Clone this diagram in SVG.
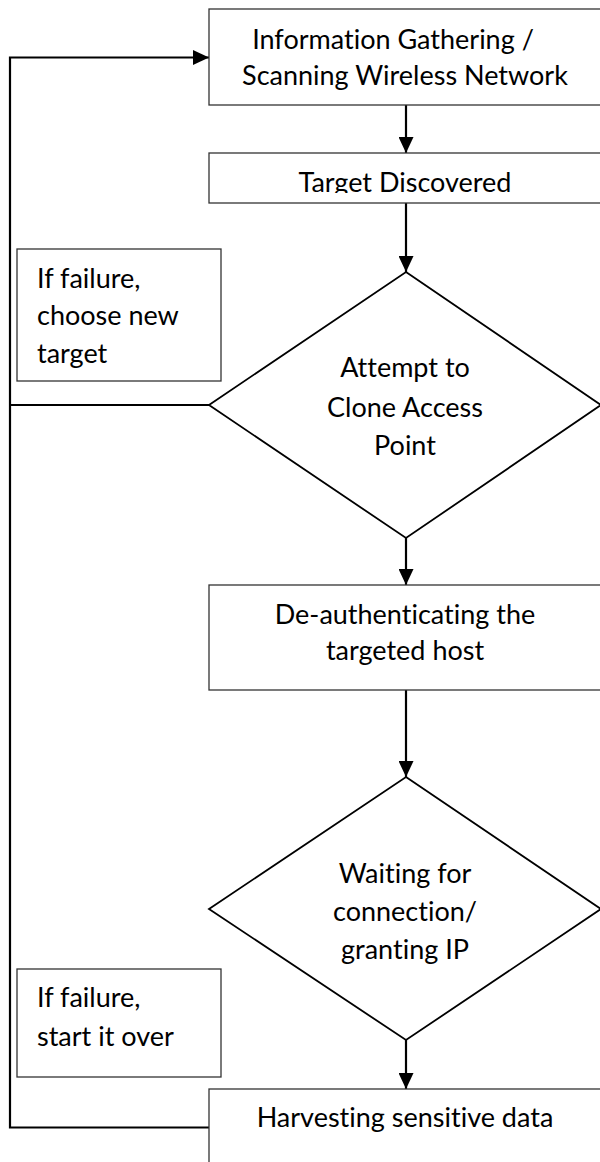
<svg xmlns="http://www.w3.org/2000/svg" width="600" height="1162" viewBox="0 0 600 1162">
  <style>
    .box { fill: #ffffff; stroke: #333333; stroke-width: 1.3; }
    .dec { fill: #ffffff; stroke: #000000; stroke-width: 1.8; }
    .wire { fill: none; stroke: #000000; stroke-width: 2.2; }
    .lbl { font-family: Lato, "Liberation Sans", sans-serif; font-size: 27px; fill: #000000;
           font-variant-ligatures: none; font-feature-settings: "liga" 0, "clig" 0, "dlig" 0; }
    .mid { text-anchor: middle; }
  </style>
  <defs>
    <marker id="head" markerUnits="userSpaceOnUse" markerWidth="16" markerHeight="15" refX="16" refY="7.5" orient="auto">
      <path d="M0,0 L16,7.5 L0,15 Z" fill="#000000"/>
    </marker>
    <clipPath id="clipTarget">
      <rect x="209" y="153" width="400" height="40"/>
    </clipPath>
  </defs>

  <g id="connectors">
    <line class="wire" x1="406" y1="105" x2="406" y2="153" marker-end="url(#head)"/>
    <line class="wire" x1="406" y1="203" x2="406" y2="272" marker-end="url(#head)"/>
    <line class="wire" x1="406" y1="538" x2="406" y2="585" marker-end="url(#head)"/>
    <line class="wire" x1="406" y1="690" x2="406" y2="777" marker-end="url(#head)"/>
    <line class="wire" x1="406" y1="1040" x2="406" y2="1089" marker-end="url(#head)"/>
    <!-- failure branch from the clone decision -->
    <line class="wire" x1="209" y1="405" x2="10" y2="405"/>
    <!-- loop back from harvesting to the start -->
    <polyline class="wire" points="209,1127.5 10,1127.5 10,57.5 209,57.5" marker-end="url(#head)"/>
  </g>

  <g id="scan">
    <rect class="box" x="209" y="9" width="400" height="96"/>
    <text class="lbl mid" x="393" y="49">Information Gathering /</text>
    <text class="lbl mid" x="405" y="85">Scanning Wireless Network</text>
  </g>

  <g id="target">
    <rect class="box" x="209" y="153" width="400" height="50"/>
    <text class="lbl mid" x="405" y="192" clip-path="url(#clipTarget)">Target Discovered</text>
  </g>

  <g id="note-new-target">
    <rect class="box" x="17" y="249" width="204" height="132"/>
    <text class="lbl" x="37" y="288">If failure,</text>
    <text class="lbl" x="37" y="325">choose new</text>
    <text class="lbl" x="37" y="363">target</text>
  </g>

  <g id="clone">
    <polygon class="dec" points="406,272 601,405 406,538 209,405"/>
    <text class="lbl mid" x="405" y="377">Attempt to</text>
    <text class="lbl mid" x="405" y="417">Clone Access</text>
    <text class="lbl mid" x="405" y="455">Point</text>
  </g>

  <g id="deauth">
    <rect class="box" x="209" y="585" width="400" height="105"/>
    <text class="lbl mid" x="405" y="624">De-authenticating the</text>
    <text class="lbl mid" x="405" y="660">targeted host</text>
  </g>

  <g id="waiting">
    <polygon class="dec" points="406,777 601,909 406,1040 209,909"/>
    <text class="lbl mid" x="405" y="883">Waiting for</text>
    <text class="lbl mid" x="405" y="921">connection/</text>
    <text class="lbl mid" x="405" y="959">granting IP</text>
  </g>

  <g id="note-start-over">
    <rect class="box" x="17" y="969" width="204" height="108"/>
    <text class="lbl" x="37" y="1007">If failure,</text>
    <text class="lbl" x="37" y="1046">start it over</text>
  </g>

  <g id="harvest">
    <rect class="box" x="209" y="1089" width="400" height="90"/>
    <text class="lbl mid" x="405" y="1127">Harvesting sensitive data</text>
  </g>
</svg>
